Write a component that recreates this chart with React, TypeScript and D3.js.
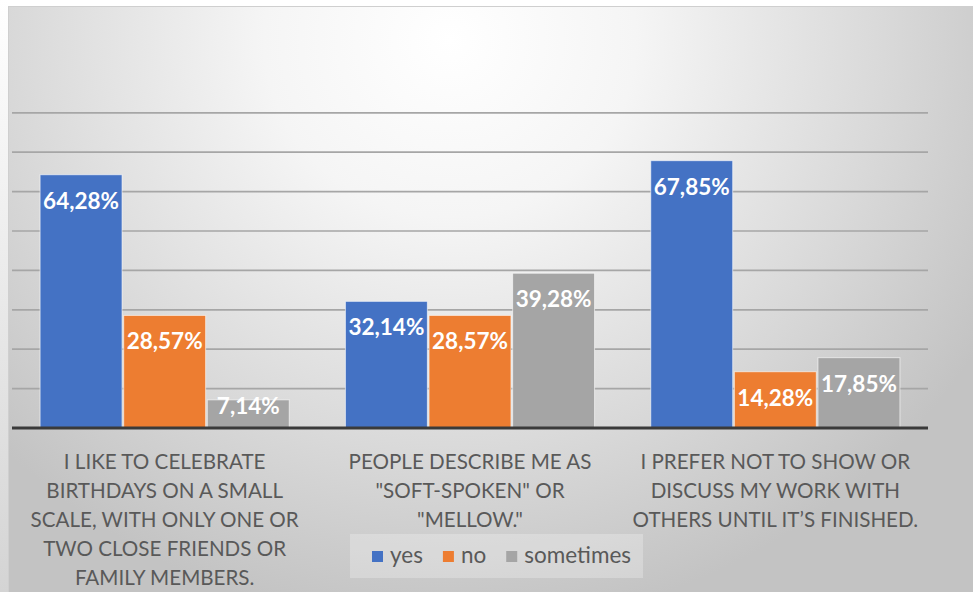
import React, { useMemo } from "react";
import * as d3 from "d3";

const categories = ["cat1", "cat2", "cat3"];
const categoryLines: string[][] = [
  ["I LIKE TO CELEBRATE", "BIRTHDAYS ON A SMALL", "SCALE, WITH ONLY ONE OR", "TWO CLOSE FRIENDS OR", "FAMILY MEMBERS."],
  ["PEOPLE DESCRIBE ME AS", "\"SOFT-SPOKEN\" OR", "\"MELLOW.\""],
  ["I PREFER NOT TO SHOW OR", "DISCUSS MY WORK WITH", "OTHERS UNTIL IT\u2019S FINISHED."],
];
const seriesNames = ["yes", "no", "sometimes"];
const yesValues = [64.28, 32.14, 67.85];
const noValues = [28.57, 28.57, 14.28];
const sometimesValues = [7.14, 39.28, 17.85];
const seriesColors = ["#4472C4", "#ED7D31", "#A5A5A5"];
const gridTicks = [10, 20, 30, 40, 50, 60, 70, 80];

const W = 973;
const H = 592;
const plotLeft = 12;
const plotRight = 928;
const axisY = 428;
const yMax = 80;
const yTopPx = 112.8;

const fmt = (v: number) => v.toFixed(2).replace(".", ",") + "%";

function measure(text: string, font: string): number {
  const c = document.createElement("canvas");
  const ctx = c.getContext("2d");
  if (!ctx) return text.length * 10;
  ctx.font = font;
  return ctx.measureText(text).width;
}

export default function App() {
  const seriesValues = [yesValues, noValues, sometimesValues];

  const x0 = d3.scaleBand<string>().domain(categories).range([plotLeft, plotRight]).padding(0);
  const x1 = d3
    .scaleBand<string>()
    .domain(seriesNames)
    .range([0, x0.bandwidth()])
    .paddingInner(0.02)
    .paddingOuter(0.336);
  const y = d3.scaleLinear().domain([0, yMax]).range([axisY, yTopPx]);

  const legendSize = 22.5;
  const legendFont = `${legendSize}px Lato`;
  const legendItems = useMemo(() => {
    let x = 372;
    return seriesNames.map((s, i) => {
      const w = measure(s, legendFont);
      const item = { name: s, color: seriesColors[i], sx: x, tx: x + 18 };
      x = x + 18 + w + 20;
      return item;
    });
  }, []);

  return (
    <svg
      width={W}
      height={H}
      style={{ position: "absolute", left: 0, top: 0, display: "block" }}
      xmlns="http://www.w3.org/2000/svg"
    >
      <defs>
        <radialGradient
          id="bg"
          gradientUnits="userSpaceOnUse"
          cx={450}
          cy={40}
          r={620}
          gradientTransform="translate(450,40) scale(1,0.95) translate(-450,-40)"
        >
          <stop offset="0" stopColor="#ffffff" />
          <stop offset="0.3" stopColor="#f5f5f5" />
          <stop offset="0.7" stopColor="#d9d9d9" />
          <stop offset="1" stopColor="#c3c3c3" />
        </radialGradient>
        <linearGradient id="strip" x1="0" y1="0" x2="0" y2="1">
          <stop offset="0" stopColor="#ffffff" />
          <stop offset="1" stopColor="#d4d4d4" />
        </linearGradient>
      </defs>
      <rect x={0} y={0} width={W} height={H} fill="#ffffff" />
      <rect x={0} y={0} width={8} height={H} fill="url(#strip)" />
      <rect x={8} y={6} width={W - 8} height={H - 6} fill="url(#bg)" />
      <line x1={8} y1={6.5} x2={W} y2={6.5} stroke="#cfcfcf" strokeWidth={1} />
      <line x1={8.5} y1={6} x2={8.5} y2={H} stroke="#cfcfcf" strokeWidth={1} />

      {/* gridlines */}
      {gridTicks.map((t) => (
        <line
          key={t}
          x1={plotLeft}
          x2={plotRight}
          y1={y(t)}
          y2={y(t)}
          stroke="#a6a6a6"
          strokeWidth={1.7}
        />
      ))}

      {/* bars */}
      {categories.map((c, ci) => (
        <g key={c} transform={`translate(${x0(c)},0)`}>
          {seriesNames.map((s, si) => {
            const v = seriesValues[si][ci];
            const bx = x1(s) as number;
            const bw = x1.bandwidth();
            const top = y(v);
            const labelY = Math.min(top + 34, axisY - 14);
            return (
              <g key={s}>
                <rect
                  x={bx}
                  y={top}
                  width={bw}
                  height={axisY - top}
                  fill={seriesColors[si]}
                  stroke="#ffffff"
                  strokeOpacity={0.6}
                  strokeWidth={1}
                />
                <text
                  x={bx + bw / 2}
                  y={labelY}
                  textAnchor="middle"
                  fontFamily="Lato"
                  fontWeight={700}
                  fontSize={22.5}
                  fill="#ffffff"
                >
                  {fmt(v)}
                </text>
              </g>
            );
          })}
        </g>
      ))}

      {/* axis line */}
      <line x1={plotLeft} x2={plotRight} y1={axisY} y2={axisY} stroke="#3a3a3a" strokeWidth={3} />

      {/* category labels */}
      {categories.map((c, ci) => (
        <text
          key={c}
          x={(x0(c) as number) + x0.bandwidth() / 2}
          y={469}
          textAnchor="middle"
          fontFamily="Lato"
          fontSize={20.6}
          fill="#595959"
        >
          {categoryLines[ci].map((ln, li) => (
            <tspan key={li} x={(x0(c) as number) + x0.bandwidth() / 2} dy={li === 0 ? 0 : 29}>
              {ln}
            </tspan>
          ))}
        </text>
      ))}

      {/* legend */}
      <rect x={350} y={534} width={293} height={44} fill="#ffffff" fillOpacity={0.25} />
      {legendItems.map((it) => (
        <g key={it.name}>
          <rect x={it.sx} y={551} width={11} height={11} fill={it.color} />
          <text x={it.tx} y={562.5} fontFamily="Lato" fontSize={legendSize} fill="#595959">
            {it.name}
          </text>
        </g>
      ))}
    </svg>
  );
}
